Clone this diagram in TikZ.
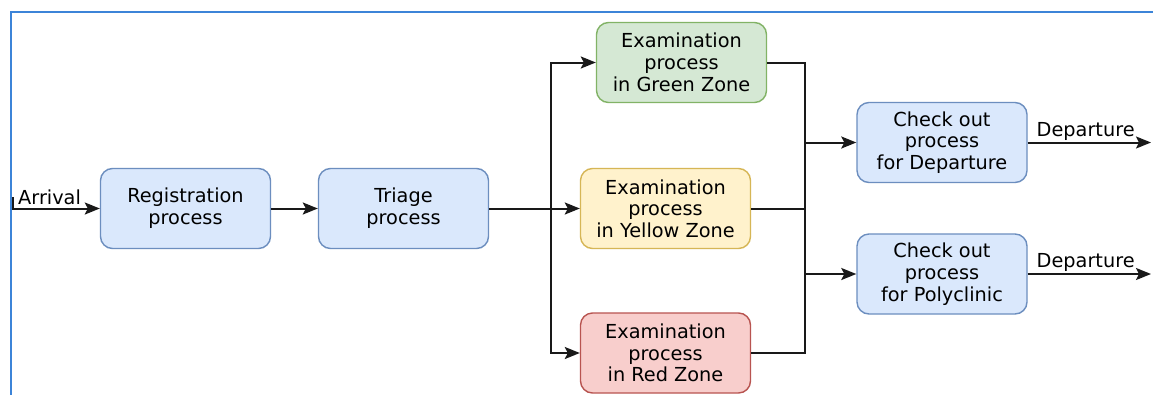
\documentclass[tikz,border=0pt]{standalone}
\usepackage{fontspec}
\setmainfont{DejaVu Sans}
\usetikzlibrary{arrows.meta,calc}
\definecolor{bluefill}{HTML}{DAE8FC}
\definecolor{bluedraw}{HTML}{6C8EBF}
\definecolor{greenfill}{HTML}{D5E8D4}
\definecolor{greendraw}{HTML}{82B366}
\definecolor{yellowfill}{HTML}{FFF2CC}
\definecolor{yellowdraw}{HTML}{D6B656}
\definecolor{redfill}{HTML}{F8CECC}
\definecolor{reddraw}{HTML}{B85450}
\definecolor{framecol}{HTML}{3C84D8}
\tikzset{
  procbox/.style={draw, rounded corners=12pt, line width=1.4pt, minimum width=170pt, minimum height=80pt, align=center, inner sep=2pt, text=black, font=\fontsize{19.3}{21.7}\selectfont},
  bluebox/.style={procbox, fill=bluefill, draw=bluedraw},
  greenbox/.style={procbox, fill=greenfill, draw=greendraw},
  yellowbox/.style={procbox, fill=yellowfill, draw=yellowdraw},
  redbox/.style={procbox, fill=redfill, draw=reddraw},
  conn/.style={line width=2pt, draw=black!90},
  arr/.style={conn, -{Stealth[length=15pt,width=12pt,inset=3pt]}},
  lbl/.style={font=\fontsize{19.3}{21.7}\selectfont, inner sep=0pt, text=black}
}
\begin{document}
\begin{tikzpicture}[x=1pt,y=-1pt]
\useasboundingbox (0,0) rectangle (1153,394);
\clip (0,0) rectangle (1153,394);
\fill[white] (0,0) rectangle (1153,394);
% frame
\coordinate (fbl) at (11,400);
\coordinate (ftl) at (11,12);
\coordinate (ftr) at (1160,12);
\draw[framecol, line width=2.2pt] (fbl) -- (ftl) -- (ftr);

% nodes
\node[bluebox] (reg) at (185.5,208.5) {Registration\\process};
\node[bluebox] (tri) at (403.5,208.5) {Triage\\process};
\node[greenbox] (grn) at (681.5,62.5) {Examination\\process\\in Green Zone};
\node[yellowbox] (yel) at (665.5,208.5) {Examination\\process\\in Yellow Zone};
\node[redbox] (red) at (665.5,353) {Examination\\process\\in Red Zone};
\node[bluebox] (dep) at (942,142.5) {Check out\\process\\for Departure};
\node[bluebox] (pol) at (942,274) {Check out\\process\\for Polyclinic};

% arrival
\coordinate (tick) at (12.5,197);
\coordinate (arrstart) at (12.5,208.5);
\draw[arr] (tick) -- (arrstart) -- (reg.west);
\node[lbl, anchor=base west] (arrlbl) at (18,204) {Arrival};

\draw[arr] (reg.east) -- (tri.west);
\draw[arr] (tri.east) -- (yel.west);

% branch
\coordinate (br) at (551,208.5);
\draw[arr] (br) |- (grn.west);
\draw[arr] (br) |- (red.west);

% merge
\coordinate (mtop) at (805,62.5);
\coordinate (mbot) at (805,353);
\draw[conn] (grn.east) -- (mtop) -- (mbot) -- (red.east);
\draw[conn] (yel.east) -- (yel.east -| mtop);
\draw[arr] (mtop |- dep.west) -- (dep.west);
\draw[arr] (mtop |- pol.west) -- (pol.west);

% departures
\coordinate (out1) at (1151,142.5);
\coordinate (out2) at (1151,274);
\draw[arr] (dep.east) -- node[lbl, above, pos=0.47, yshift=1pt] {Departure} (out1);
\draw[arr] (pol.east) -- node[lbl, above, pos=0.47, yshift=1pt] {Departure} (out2);
\end{tikzpicture}
\end{document}
